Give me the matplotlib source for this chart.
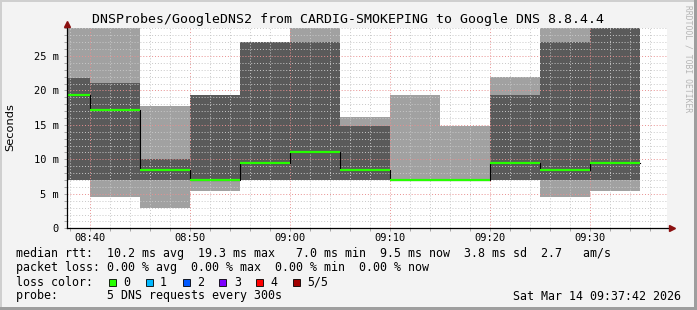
import matplotlib
matplotlib.use("Agg")
import matplotlib.pyplot as plt
from matplotlib.patches import Rectangle
from matplotlib.ticker import MultipleLocator

# 5 minute steps, values in ms
step_starts = ["08:35", "08:40", "08:45", "08:50", "08:55", "09:00",
               "09:05", "09:10", "09:15", "09:20", "09:25", "09:30"]
step_end = "09:35"
light_hi = [30.0, 30.0, 17.8, 19.4, 27.1, 30.0, 16.2, 19.4, 14.8, 21.9, 30.0, 30.0]
dark_hi = [21.8, 21.1, 10.1, 19.4, 27.1, 27.1, 14.8, 7.0, 7.0, 19.4, 27.1, 30.0]
median = [19.3, 17.2, 8.5, 7.0, 9.5, 11.0, 8.5, 7.0, 7.0, 9.5, 8.5, 9.5]
dark_lo = [7.0, 7.0, 7.0, 7.0, 7.0, 7.0, 7.0, 7.0, 7.0, 7.0, 7.0, 7.0]
light_lo = [7.0, 4.55, 2.95, 5.4, 7.0, 7.0, 7.0, 7.0, 7.0, 7.0, 4.55, 5.4]

x_ticks = ["08:40", "08:50", "09:00", "09:10", "09:20", "09:30"]
y_ticks = [0, 5, 10, 15, 20, 25]
loss_labels = ["0", "1", "2", "3", "4", "5/5"]
loss_colors = ["#26ff00", "#00b8ff", "#0059ff", "#7e00ff", "#ff0000", "#a10000"]

MONO = "DejaVu Sans Mono"
W, H = 697, 310
LEG_FS = 8.37


def to_min(s):
    h, m = s.split(":")
    return int(h) * 60 + int(m)


def fx(px):
    return px / W


def fy(py):
    return 1 - py / H


edges = [to_min(s) for s in step_starts] + [to_min(step_end)]


def ext(v):
    return v + [v[-1]]


fig = plt.figure(figsize=(W / 100, H / 100), dpi=100, facecolor="#f3f3f3")

# 3d-ish frame
fig.add_artist(Rectangle((0, fy(2)), 1, 2 / H, transform=fig.transFigure, color="#cfcfcf", lw=0))
fig.add_artist(Rectangle((0, 0), 2 / W, 1, transform=fig.transFigure, color="#cfcfcf", lw=0))
fig.add_artist(Rectangle((0, 0), 1, 3 / H, transform=fig.transFigure, color="#9e9e9e", lw=0))
fig.add_artist(Rectangle((fx(W - 3), 0), 3 / W, 1, transform=fig.transFigure, color="#9e9e9e", lw=0))

ax = fig.add_axes([fx(67), fy(228.3), 600 / W, 200.3 / H])
ax.set_facecolor("white")

ax.fill_between(edges, ext(light_lo), ext(light_hi), step="post", color="#a1a1a1", lw=0, zorder=1)
ax.fill_between(edges, ext(dark_lo), ext(dark_hi), step="post", color="#5a5a5a", lw=0, zorder=1.1)

ax.step(edges, ext(median), where="post", color="black", lw=0.8, zorder=3)
ax.hlines(median, edges[:-1], edges[1:], color="#26ff00", lw=1.6, zorder=3.5)

start = to_min("08:37") + 42 / 60
ax.set_xlim(start, start + 60)
ax.set_ylim(0, 29.06)

ax.set_xticks([to_min(t) for t in x_ticks])
ax.set_xticklabels(x_ticks, fontfamily=MONO, fontsize=7.5)
ax.xaxis.set_minor_locator(MultipleLocator(2))
ax.set_yticks(y_ticks)
ax.set_yticklabels(["0" if v == 0 else f"{v} m" for v in y_ticks], fontfamily=MONO, fontsize=7.5)
ax.yaxis.set_minor_locator(MultipleLocator(1))
ax.tick_params(which="both", length=2, width=0.6, color="#999999")
ax.tick_params(axis="x", pad=1.5)
ax.tick_params(axis="y", pad=4)

ax.grid(which="minor", color="#c8c8c8", lw=0.7, ls=(0, (1, 2)), zorder=2)
ax.grid(which="major", color="#e89090", lw=0.7, ls=(0, (1, 2)), zorder=2.1)

for s in ax.spines.values():
    s.set_visible(False)
ax.plot([0, 0], [0, 1.0], transform=ax.transAxes, color="black", lw=0.9, clip_on=False, zorder=4)
ax.plot([0, 1.005], [0, 0], transform=ax.transAxes, color="black", lw=0.9, clip_on=False, zorder=4)
ax.plot(1.008, 0, marker=">", ms=4, color="#8b1010", transform=ax.transAxes, clip_on=False, zorder=5)
ax.plot(0, 1.018, marker="^", ms=4, color="#8b1010", transform=ax.transAxes, clip_on=False, zorder=5)

fig.text(0.5, fy(19), "DNSProbes/GoogleDNS2 from CARDIG-SMOKEPING to Google DNS 8.8.4.4",
         ha="center", va="center", fontfamily=MONO, fontsize=9.5)
fig.text(fx(10), fy(127), "Seconds", rotation=90, ha="center", va="center", fontsize=8.2)
fig.text(fx(688), fy(59), "RRDTOOL / TOBI OETIKER", rotation=270, ha="center", va="center",
         fontfamily=MONO, fontsize=5.8, color="#b5b5b5")

lines = [
    "median rtt:  10.2 ms avg  19.3 ms max   7.0 ms min  9.5 ms now  3.8 ms sd  2.7   am/s",
    "packet loss: 0.00 % avg  0.00 % max  0.00 % min  0.00 % now",
    "loss color:",
    "probe:       5 DNS requests every 300s",
]
for i, line in enumerate(lines):
    fig.text(fx(16), fy(254 + 14 * i), line, ha="left", va="center", fontfamily=MONO, fontsize=LEG_FS)

for i, (lab, col) in enumerate(zip(loss_labels, loss_colors)):
    x0 = 108.7 + 36.9 * i
    fig.add_artist(Rectangle((fx(x0), fy(285.5)), 7 / W, 7 / H, transform=fig.transFigure,
                             facecolor=col, edgecolor="black", lw=0.6))
    fig.text(fx(x0 + 14.5), fy(282), lab, ha="left", va="center", fontfamily=MONO, fontsize=LEG_FS)

fig.text(fx(681), fy(296), "Sat Mar 14 09:37:42 2026", ha="right", va="center",
         fontfamily=MONO, fontsize=LEG_FS)

fig.savefig("out.png", dpi=100, facecolor=fig.get_facecolor())
